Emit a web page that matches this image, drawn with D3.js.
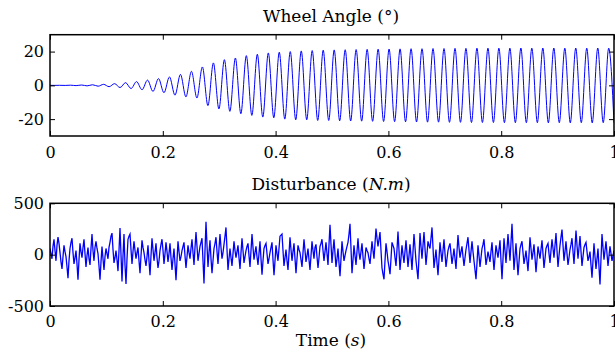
<!DOCTYPE html>
<html>
<head>
<meta charset="utf-8">
<script src="https://cdn.jsdelivr.net/npm/d3@7"></script>
<style>
  body { margin: 0; background: #fff; }
  svg { display: block; }
  text { font-family: "DejaVu Serif", serif; fill: #000; }
</style>
</head>
<body>
<div id="chart"></div>
<script>
const angleTimes = [0, 0.0074, 0.0171, 0.0269, 0.0366, 0.0463, 0.0561, 0.0658, 0.0755, 0.0853, 0.0950,
  0.1048, 0.1145, 0.1242, 0.1340, 0.1437, 0.1534, 0.1632, 0.1729, 0.1826, 0.1924,
  0.2021, 0.2118, 0.2216, 0.2313, 0.2410, 0.2508, 0.2605, 0.2702, 0.2800, 0.2897,
  0.2995, 0.3092, 0.3189, 0.3287, 0.3384, 0.3481, 0.3579, 0.3676, 0.3773, 0.3871,
  0.3968, 0.4065, 0.4163, 0.4260, 0.4357, 0.4455, 0.4552, 0.4649, 0.4747, 0.4844,
  0.4942, 0.5039, 0.5136, 0.5234, 0.5331, 0.5428, 0.5526, 0.5623, 0.5720, 0.5818,
  0.5915, 0.6012, 0.6110, 0.6207, 0.6304, 0.6402, 0.6499, 0.6596, 0.6694, 0.6791,
  0.6889, 0.6986, 0.7083, 0.7181, 0.7278, 0.7375, 0.7473, 0.7570, 0.7667, 0.7765,
  0.7862, 0.7959, 0.8057, 0.8154, 0.8251, 0.8349, 0.8446, 0.8543, 0.8641, 0.8738,
  0.8836, 0.8933, 0.9030, 0.9128, 0.9225, 0.9322, 0.9420, 0.9517, 0.9614, 0.9712,
  0.9809, 0.9906, 1.0];
const angleValues = [0, -0.02, 0.03, -0.05, 0.1, -0.15, 0.2, -0.3, 0.35, -0.5, 0.6,
  -0.8, 1.0, -1.3, 1.6, -1.9, 2.2, -2.6, 3.1, -3.6, 4.0,
  -4.4, 5.0, -5.8, 6.5, -6.8, 8.3, -7.5, 10.9, -12.0, 13.3,
  -14.0, 15.2, -15.4, 16.2, -16.8, 17.6, -17.8, 18.4, -18.8, 19.2,
  -19.2, 19.6, -20.0, 20.0, -20.4, 20.4, -20.4, 20.6, -20.8, 20.8,
  -20.8, 21.0, -21.0, 21.1, -21.1, 21.2, -21.2, 21.3, -21.3, 21.4,
  -21.4, 21.5, -21.5, 21.6, -21.6, 21.7, -21.7, 21.7, -21.8, 21.8,
  -21.8, 21.8, -21.9, 21.9, -21.9, 21.9, -22.0, 22.0, -22.0, 22.0,
  -22.0, 22.0, -22.1, 22.0, -22.1, 22.1, -22.1, 22.0, -22.1, 22.1,
  -22.2, 22.1, -22.1, 22.0, -22.2, 22.1, -22.1, 22.0, -22.2, 22.1,
  -22.1, 22.0, -22.1];

// disturbance torque (N.m): main samples, evenly spaced from t = 0 to t = 1
const disturbance = [
  60, -40, 150, -60, 170, 20, -140, 90, -20, -230, 60, 160, -90, 40, -245, 110, -30, 150, -120, 70,
  -100, 200, -60, 130, 10, -245, 80, -150, 60, -40, 120, 210, -80, 40, -160, 260, -260, 200, -285, 150,
  200, -90, 130, -40, 70, -180, 140, 20, -110, 90, -200, 160, -60, 110, -130, 40, 150, -90, 120, -70,
  110, -150, 60, -250, 130, -60, 40, 120, -130, 90, -40, 150, -100, 220, -60, 80, 160, -280, 320, -120,
  140, -180, 60, 170, -90, 200, -40, 100, 265, -150, 60, -110, 130, -30, 90, -140, 160, -80, 40, 110,
  -120, 200, -50, 80, -100, 130, -195, 60, 110, -90, 20, 120, -200, 90, -60, 180, 200, -110, 50, -150,
  170, -60, 110, -180, 90, 20, -120, 150, -70, 60, -150, 130, -40, 100, -130, 80, 150, -60, 120, -100,
  290, -80, 150, -120, 60, -210, 130, -60, 40, 120, 300, -180, 90, -100, 160, -50, 110, -140, 70, 20,
  -90, 130, -40, 255, 80, 220, -130, -240, 110, -60, -190, 120, 60, -110, 225, -150, 90, -80, 140, -120,
  100, -150, 200, -60, -240, 210, -40, 220, -100, 130, 60, 265, -130, 50, -200, 120, -70, 150, -120, 40,
  110, -90, 60, -140, 190, -30, 80, -110, 50, 170, -80, 130, -60, -240, 90, -120, 60, 150, -100, 30,
  -70, 120, -150, 90, -30, 140, -240, 160, -80, 200, -60, 300, -150, 110, -200, 60, 130, -90, 40, -160,
  170, -50, 100, -170, 80, -40, 140, -130, 60, 110, -80, 150, -30, 210, -120, 90, 245, -60, 130, -100,
  50, 160, -90, 235, -40, 180, -110, 70, 120, -60, 30, -225, 110, -140, 60, -290, 200, -50, 130, -110,
  80, -60, 40];

// disturbance: in-between samples, one between each pair of main samples
const disturbanceMid = [
  10, 80, 40, 90, 110, -70, -20, 30, -120, -60, 120, 20, -30, -90, -50, 30, 70, 10, -10, -40,
  60, 40, 70, 60, -110, -70, -40, -20, 10, 70, 180, 50, -30, -50, 40, 0, -10, -100, -40, 180,
  50, 30, 40, 20, -60, -10, 70, -50, -20, -60, -10, 50, 20, -30, -60, 100, 40, 10, 30, 10,
  -30, -40, -90, -60, 30, -20, 80, -10, -20, 20, 60, 20, 70, 80, 10, 120, -60, 40, 90, 20,
  -40, -60, 110, 30, 60, 70, 20, 180, 50, -40, -30, 10, 40, 30, -30, 20, 40, -20, 80, -10,
  40, 70, 20, -20, 10, -40, -60, 90, 10, -40, 70, -50, -60, 10, 60, 190, 40, -30, -60, 10,
  50, 30, -40, -40, 50, -50, 20, 40, -10, -50, -10, 40, 70, -20, -30, 110, 40, 30, 10, 100,
  100, 40, 10, -40, -80, -40, 30, -10, 80, 200, 60, -50, -10, 30, 20, 30, -20, -40, 40, -40,
  20, 40, 110, 160, 150, 40, -190, -60, 30, -120, -40, 90, -30, 50, 40, -30, 0, 30, 10, -10,
  -20, 30, 70, -150, -20, 80, 90, 60, 10, 90, 160, 70, -40, -80, -40, 20, 40, 10, -40, 80,
  10, -20, -40, 30, 70, 30, -20, -30, 110, 40, 30, 30, -150, -80, -10, -30, 100, 20, -40, -20,
  30, -20, -30, 30, 50, -60, -40, 40, 60, 70, 120, 70, -20, -50, -70, 100, 20, -30, -60, 0,
  60, 20, -30, -50, 20, 50, 10, -40, 90, 10, 40, 60, 90, 40, -10, 170, 90, 30, 10, -30,
  100, 30, 70, 90, 70, 30, -20, 100, 30, -20, -100, -60, -20, -40, -120, -40, 70, 40, 10, -10,
  10, -10];

const xTicks = [0, 0.2, 0.4, 0.6, 0.8, 1];
const angleTicks = [-20, 0, 20];
const torqueTicks = [-500, 0, 500];

const W = 615, H = 354;
const x0 = 50, x1 = 614;

const svg = d3.select('#chart').append('svg')
  .attr('width', W)
  .attr('height', H);

const x = d3.scaleLinear().domain([0, 1]).range([x0, x1]);

function panel(top, bottom, yDomain, yTicks, pts, id, labelPad, smooth, lw) {
  const y = d3.scaleLinear().domain(yDomain).range([bottom, top]);

  svg.append('clipPath').attr('id', id)
    .append('rect')
    .attr('x', x0).attr('y', top)
    .attr('width', x1 - x0).attr('height', bottom - top);

  const line = d3.line()
    .x(d => x(d[0]))
    .y(d => y(d[1]));
  if (smooth) line.curve(d3.curveMonotoneX);

  svg.append('path')
    .datum(pts)
    .attr('clip-path', `url(#${id})`)
    .attr('fill', 'none')
    .attr('stroke', '#0000ff')
    .attr('stroke-width', lw)
    .attr('d', line);

  // ticks point inward on all four sides
  const fmtX = d => d === 0 || d === 1 ? d3.format('d')(d) : d3.format('.1f')(d);
  const gb = svg.append('g')
    .attr('transform', `translate(0,${bottom})`)
    .call(d3.axisBottom(x).tickValues(xTicks).tickFormat(fmtX)
      .tickSizeInner(-5).tickSizeOuter(0).tickPadding(labelPad));
  svg.append('g')
    .attr('transform', `translate(0,${top})`)
    .call(d3.axisTop(x).tickValues(xTicks).tickFormat('')
      .tickSizeInner(-5).tickSizeOuter(0));
  const gl = svg.append('g')
    .attr('transform', `translate(${x0},0)`)
    .call(d3.axisLeft(y).tickValues(yTicks).tickFormat(d3.format('d'))
      .tickSizeInner(-5).tickSizeOuter(0).tickPadding(6));
  svg.append('g')
    .attr('transform', `translate(${x1},0)`)
    .call(d3.axisRight(y).tickValues(yTicks).tickFormat('')
      .tickSizeInner(-5).tickSizeOuter(0));

  svg.selectAll('.domain').remove();
  svg.selectAll('.tick line').attr('stroke', '#000').attr('stroke-width', 1);
  [gb, gl].forEach(g => g.selectAll('text')
    .attr('font-family', '"DejaVu Serif", serif')
    .attr('font-size', 16)
    .attr('fill', '#000'));
  gl.selectAll('text').text(d => d < 0 ? '-' + Math.abs(d) : d);

  svg.append('rect')
    .attr('x', x0).attr('y', top)
    .attr('width', x1 - x0).attr('height', bottom - top)
    .attr('fill', 'none')
    .attr('stroke', '#000')
    .attr('stroke-width', 1.5);
}

const anglePts = angleTimes.map((t, i) => [t, angleValues[i]]);

const torqueVals = [];
disturbance.forEach((v, i) => {
  torqueVals.push(v);
  if (i < disturbanceMid.length) torqueVals.push(disturbanceMid[i]);
});
const torquePts = torqueVals.map((v, i) => [i / (torqueVals.length - 1), v]);

panel(34.7, 136, [-30, 30], angleTicks, anglePts, 'clipA', 11, true, 1);
panel(203.3, 306, [-500, 500], torqueTicks, torquePts, 'clipB', 10, false, 1.3);

// titles
svg.append('text')
  .attr('x', 331).attr('y', 22)
  .attr('text-anchor', 'middle')
  .attr('font-size', 17)
  .text('Wheel Angle (°)');

const t2 = svg.append('text')
  .attr('x', 331).attr('y', 190)
  .attr('text-anchor', 'middle')
  .attr('font-size', 17);
t2.append('tspan').text('Disturbance (');
t2.append('tspan').attr('font-style', 'italic').text('N.m');
t2.append('tspan').text(')');

const t3 = svg.append('text')
  .attr('x', 331).attr('y', 346)
  .attr('text-anchor', 'middle')
  .attr('font-size', 17);
t3.append('tspan').text('Time (');
t3.append('tspan').attr('font-style', 'italic').text('s');
t3.append('tspan').text(')');
</script>
</body>
</html>
